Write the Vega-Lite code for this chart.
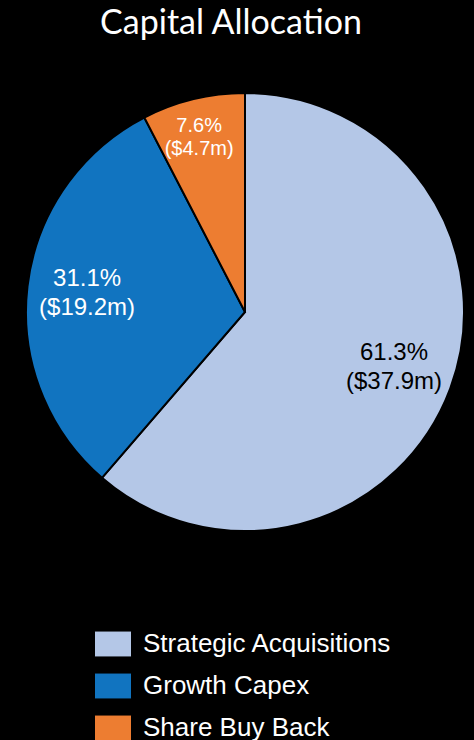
{
  "$schema": "https://vega.github.io/schema/vega-lite/v6.json",
  "width": 458,
  "height": 438,
  "autosize": {"type": "none"},
  "padding": {"left": 16, "top": 93, "right": 0, "bottom": 209},
  "background": "#000000",
  "title": {
    "text": "Capital Allocation",
    "font": "Lato",
    "fontSize": 34,
    "fontWeight": "normal",
    "color": "#ffffff",
    "anchor": "middle",
    "dx": -14,
    "offset": 48
  },
  "config": {"view": {"stroke": null}},
  "data": {
    "values": [
      {"cat": "Strategic Acquisitions", "k": 1, "value": 37.9, "label": ["61.3%", "($37.9m)"]},
      {"cat": "Growth Capex", "k": 2, "value": 19.2, "label": ["31.1%", "($19.2m)"]},
      {"cat": "Share Buy Back", "k": 3, "value": 4.7, "label": ["7.6%", "($4.7m)"]}
    ]
  },
  "encoding": {
    "theta": {"field": "value", "type": "quantitative", "stack": true},
    "order": {"field": "k", "type": "quantitative"}
  },
  "layer": [
    {
      "mark": {"type": "arc", "outerRadius": 219, "stroke": "#000000", "strokeWidth": 2},
      "encoding": {
        "color": {
          "field": "cat",
          "type": "nominal",
          "scale": {
            "domain": ["Strategic Acquisitions", "Growth Capex", "Share Buy Back"],
            "range": ["#B4C7E7", "#1174C0", "#ED7D31"]
          },
          "legend": {
            "title": null,
            "orient": "none",
            "legendX": 78,
            "legendY": 532,
            "direction": "vertical",
            "padding": 0,
            "symbolType": "M-1,-0.7L1,-0.7L1,0.7L-1,0.7Z",
            "symbolSize": 1369,
            "symbolStrokeColor": "#000000",
            "symbolStrokeWidth": 1,
            "symbolOpacity": 1,
            "labelFont": "Liberation Sans",
            "labelFontSize": 26,
            "labelColor": "#ffffff",
            "labelOffset": 11,
            "rowPadding": 8,
            "labelLimit": 400
          }
        }
      }
    },
    {
      "mark": {"type": "text", "radius": 159, "dy": -14, "font": "Liberation Sans", "fontSize": 24, "lineHeight": 29, "baseline": "middle", "align": "center"},
      "encoding": {
        "text": {"condition": {"test": "datum.cat !== 'Share Buy Back'", "field": "label"}, "value": ""},
        "color": {"condition": {"test": "datum.cat === 'Strategic Acquisitions'", "value": "#000000"}, "value": "#ffffff"}
      }
    },
    {
      "mark": {"type": "text", "radius": 181, "dy": -10, "dx": -3, "font": "Liberation Sans", "fontSize": 20, "lineHeight": 23, "baseline": "middle", "align": "center"},
      "encoding": {
        "text": {"condition": {"test": "datum.cat === 'Share Buy Back'", "field": "label"}, "value": ""},
        "color": {"value": "#ffffff"}
      }
    }
  ]
}
